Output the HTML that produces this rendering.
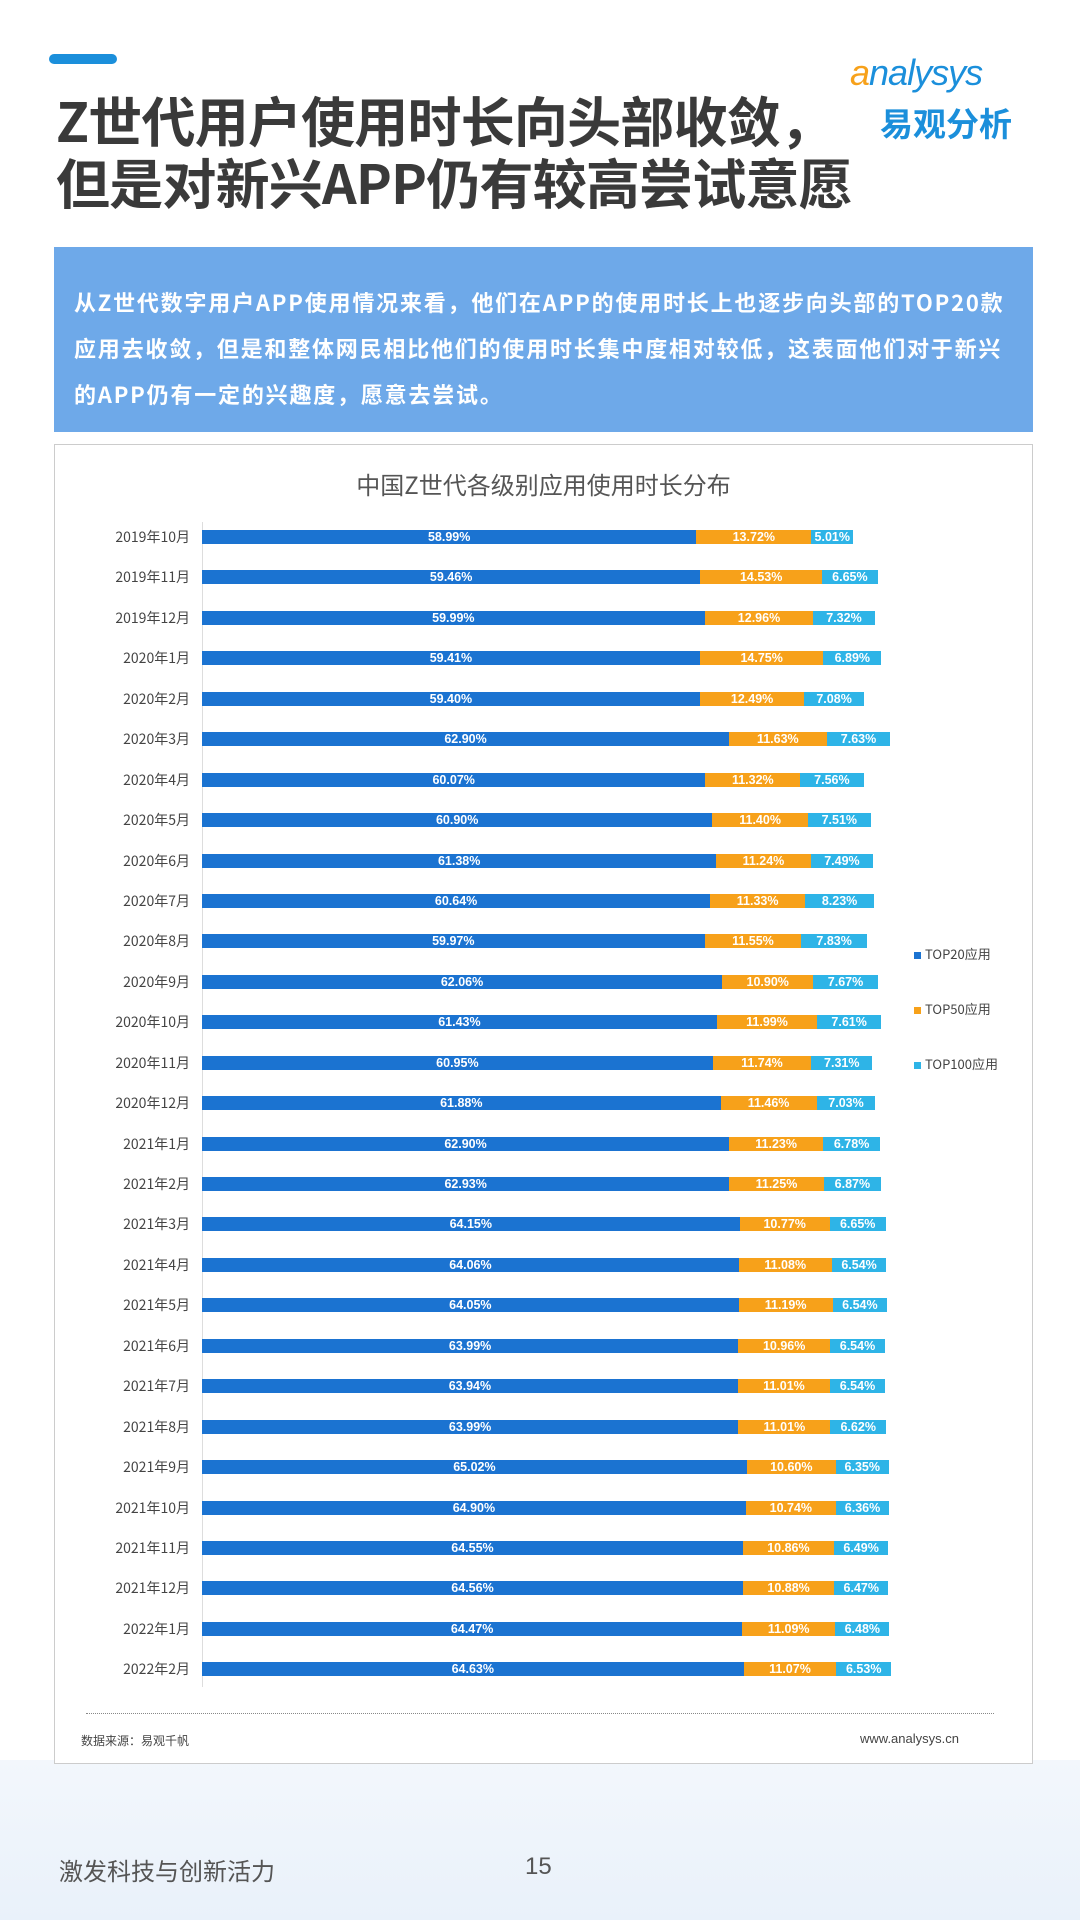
<!DOCTYPE html>
<html><head><meta charset="utf-8">
<style>
*{margin:0;padding:0;box-sizing:border-box}
body{width:1080px;height:1920px;position:relative;background:#fff;font-family:"Liberation Sans","Noto Sans CJK SC",sans-serif;overflow:hidden}
.abs{position:absolute}
.bottom{position:absolute;left:0;top:1760px;width:1080px;height:160px;background:linear-gradient(#f3f7fc,#e9f1fa)}
.title{left:56px;top:88px;font-size:54px;font-weight:bold;color:#3a3a3a;line-height:62px;font-family:"Noto Sans CJK SC",sans-serif;letter-spacing:-0.8px}
.box{left:54px;top:247px;width:979px;height:185px;background:#6ea9e9;color:#fff;font-weight:bold;font-size:22px;line-height:46px;padding:32px 10px 0 20px;font-family:"Noto Sans CJK SC",sans-serif;letter-spacing:1.8px;white-space:nowrap}
.frame{left:54px;top:444px;width:979px;height:1320px;border:1px solid #ccc;background:#fff}
.ctitle{left:54px;width:979px;top:466px;text-align:center;font-size:24px;color:#555;font-family:"Noto Sans CJK SC",sans-serif}
.axis{left:202px;top:522px;width:1px;height:1165px;background:#ddd}
.rows{left:0;top:530px;width:1000px}
.r{height:40.45px;display:flex;align-items:flex-start;white-space:nowrap}
.l{width:190px;text-align:right;font-size:14px;color:#444;line-height:14px;margin-right:12px;font-family:"Noto Sans CJK SC",sans-serif}
.r b{display:block;height:14px;line-height:14px;font-size:12.5px;color:#fff;text-align:center;font-weight:bold;overflow:visible}
.a{background:#1b73d1}.o{background:#f7a11a}.c{background:#2eb4e7}
.leg{left:914px;font-size:13px;color:#444;font-family:"Noto Sans CJK SC",sans-serif}
.leg i{display:inline-block;width:7px;height:7px;margin-right:4px;vertical-align:middle}
</style></head><body>
<div class="bottom"></div>
<div class="abs" style="left:49px;top:54px;width:68px;height:10px;border-radius:5px;background:#1b8fdb"></div>
<div class="abs title">Z世代用户使用时长向头部收敛，<br>但是对新兴APP仍有较高尝试意愿</div>
<div class="abs" style="left:850px;top:52px;font-size:36px;color:#1b8fdb;font-style:italic;letter-spacing:-1px"><span style="color:#f7a11a">a</span>nalysys</div>
<div class="abs" style="left:880px;top:98px;font-size:33px;color:#1b8fdb;font-weight:bold;font-family:'Noto Sans CJK SC',sans-serif">易观分析</div>
<div class="abs box">从Z世代数字用户APP使用情况来看，他们在APP的使用时长上也逐步向头部的TOP20款<br>应用去收敛，但是和整体网民相比他们的使用时长集中度相对较低，这表面他们对于新兴<br>的APP仍有一定的兴趣度，愿意去尝试。</div>
<div class="abs frame"></div>
<div class="abs ctitle">中国Z世代各级别应用使用时长分布</div>
<div class="abs axis"></div>
<div class="abs rows">
<div class="r"><span class="l">2019年10月</span><b class="a" style="width:calc(58.99*8.38px)">58.99%</b><b class="o" style="width:calc(13.72*8.38px)">13.72%</b><b class="c" style="width:calc(5.01*8.38px)">5.01%</b></div>
<div class="r"><span class="l">2019年11月</span><b class="a" style="width:calc(59.46*8.38px)">59.46%</b><b class="o" style="width:calc(14.53*8.38px)">14.53%</b><b class="c" style="width:calc(6.65*8.38px)">6.65%</b></div>
<div class="r"><span class="l">2019年12月</span><b class="a" style="width:calc(59.99*8.38px)">59.99%</b><b class="o" style="width:calc(12.96*8.38px)">12.96%</b><b class="c" style="width:calc(7.32*8.38px)">7.32%</b></div>
<div class="r"><span class="l">2020年1月</span><b class="a" style="width:calc(59.41*8.38px)">59.41%</b><b class="o" style="width:calc(14.75*8.38px)">14.75%</b><b class="c" style="width:calc(6.89*8.38px)">6.89%</b></div>
<div class="r"><span class="l">2020年2月</span><b class="a" style="width:calc(59.40*8.38px)">59.40%</b><b class="o" style="width:calc(12.49*8.38px)">12.49%</b><b class="c" style="width:calc(7.08*8.38px)">7.08%</b></div>
<div class="r"><span class="l">2020年3月</span><b class="a" style="width:calc(62.90*8.38px)">62.90%</b><b class="o" style="width:calc(11.63*8.38px)">11.63%</b><b class="c" style="width:calc(7.63*8.38px)">7.63%</b></div>
<div class="r"><span class="l">2020年4月</span><b class="a" style="width:calc(60.07*8.38px)">60.07%</b><b class="o" style="width:calc(11.32*8.38px)">11.32%</b><b class="c" style="width:calc(7.56*8.38px)">7.56%</b></div>
<div class="r"><span class="l">2020年5月</span><b class="a" style="width:calc(60.90*8.38px)">60.90%</b><b class="o" style="width:calc(11.40*8.38px)">11.40%</b><b class="c" style="width:calc(7.51*8.38px)">7.51%</b></div>
<div class="r"><span class="l">2020年6月</span><b class="a" style="width:calc(61.38*8.38px)">61.38%</b><b class="o" style="width:calc(11.24*8.38px)">11.24%</b><b class="c" style="width:calc(7.49*8.38px)">7.49%</b></div>
<div class="r"><span class="l">2020年7月</span><b class="a" style="width:calc(60.64*8.38px)">60.64%</b><b class="o" style="width:calc(11.33*8.38px)">11.33%</b><b class="c" style="width:calc(8.23*8.38px)">8.23%</b></div>
<div class="r"><span class="l">2020年8月</span><b class="a" style="width:calc(59.97*8.38px)">59.97%</b><b class="o" style="width:calc(11.55*8.38px)">11.55%</b><b class="c" style="width:calc(7.83*8.38px)">7.83%</b></div>
<div class="r"><span class="l">2020年9月</span><b class="a" style="width:calc(62.06*8.38px)">62.06%</b><b class="o" style="width:calc(10.90*8.38px)">10.90%</b><b class="c" style="width:calc(7.67*8.38px)">7.67%</b></div>
<div class="r"><span class="l">2020年10月</span><b class="a" style="width:calc(61.43*8.38px)">61.43%</b><b class="o" style="width:calc(11.99*8.38px)">11.99%</b><b class="c" style="width:calc(7.61*8.38px)">7.61%</b></div>
<div class="r"><span class="l">2020年11月</span><b class="a" style="width:calc(60.95*8.38px)">60.95%</b><b class="o" style="width:calc(11.74*8.38px)">11.74%</b><b class="c" style="width:calc(7.31*8.38px)">7.31%</b></div>
<div class="r"><span class="l">2020年12月</span><b class="a" style="width:calc(61.88*8.38px)">61.88%</b><b class="o" style="width:calc(11.46*8.38px)">11.46%</b><b class="c" style="width:calc(7.03*8.38px)">7.03%</b></div>
<div class="r"><span class="l">2021年1月</span><b class="a" style="width:calc(62.90*8.38px)">62.90%</b><b class="o" style="width:calc(11.23*8.38px)">11.23%</b><b class="c" style="width:calc(6.78*8.38px)">6.78%</b></div>
<div class="r"><span class="l">2021年2月</span><b class="a" style="width:calc(62.93*8.38px)">62.93%</b><b class="o" style="width:calc(11.25*8.38px)">11.25%</b><b class="c" style="width:calc(6.87*8.38px)">6.87%</b></div>
<div class="r"><span class="l">2021年3月</span><b class="a" style="width:calc(64.15*8.38px)">64.15%</b><b class="o" style="width:calc(10.77*8.38px)">10.77%</b><b class="c" style="width:calc(6.65*8.38px)">6.65%</b></div>
<div class="r"><span class="l">2021年4月</span><b class="a" style="width:calc(64.06*8.38px)">64.06%</b><b class="o" style="width:calc(11.08*8.38px)">11.08%</b><b class="c" style="width:calc(6.54*8.38px)">6.54%</b></div>
<div class="r"><span class="l">2021年5月</span><b class="a" style="width:calc(64.05*8.38px)">64.05%</b><b class="o" style="width:calc(11.19*8.38px)">11.19%</b><b class="c" style="width:calc(6.54*8.38px)">6.54%</b></div>
<div class="r"><span class="l">2021年6月</span><b class="a" style="width:calc(63.99*8.38px)">63.99%</b><b class="o" style="width:calc(10.96*8.38px)">10.96%</b><b class="c" style="width:calc(6.54*8.38px)">6.54%</b></div>
<div class="r"><span class="l">2021年7月</span><b class="a" style="width:calc(63.94*8.38px)">63.94%</b><b class="o" style="width:calc(11.01*8.38px)">11.01%</b><b class="c" style="width:calc(6.54*8.38px)">6.54%</b></div>
<div class="r"><span class="l">2021年8月</span><b class="a" style="width:calc(63.99*8.38px)">63.99%</b><b class="o" style="width:calc(11.01*8.38px)">11.01%</b><b class="c" style="width:calc(6.62*8.38px)">6.62%</b></div>
<div class="r"><span class="l">2021年9月</span><b class="a" style="width:calc(65.02*8.38px)">65.02%</b><b class="o" style="width:calc(10.60*8.38px)">10.60%</b><b class="c" style="width:calc(6.35*8.38px)">6.35%</b></div>
<div class="r"><span class="l">2021年10月</span><b class="a" style="width:calc(64.90*8.38px)">64.90%</b><b class="o" style="width:calc(10.74*8.38px)">10.74%</b><b class="c" style="width:calc(6.36*8.38px)">6.36%</b></div>
<div class="r"><span class="l">2021年11月</span><b class="a" style="width:calc(64.55*8.38px)">64.55%</b><b class="o" style="width:calc(10.86*8.38px)">10.86%</b><b class="c" style="width:calc(6.49*8.38px)">6.49%</b></div>
<div class="r"><span class="l">2021年12月</span><b class="a" style="width:calc(64.56*8.38px)">64.56%</b><b class="o" style="width:calc(10.88*8.38px)">10.88%</b><b class="c" style="width:calc(6.47*8.38px)">6.47%</b></div>
<div class="r"><span class="l">2022年1月</span><b class="a" style="width:calc(64.47*8.38px)">64.47%</b><b class="o" style="width:calc(11.09*8.38px)">11.09%</b><b class="c" style="width:calc(6.48*8.38px)">6.48%</b></div>
<div class="r"><span class="l">2022年2月</span><b class="a" style="width:calc(64.63*8.38px)">64.63%</b><b class="o" style="width:calc(11.07*8.38px)">11.07%</b><b class="c" style="width:calc(6.53*8.38px)">6.53%</b></div>
</div>
<div class="abs leg" style="top:944px"><i style="background:#1b73d1"></i>TOP20应用</div>
<div class="abs leg" style="top:999px"><i style="background:#f7a11a"></i>TOP50应用</div>
<div class="abs leg" style="top:1054px"><i style="background:#2eb4e7"></i>TOP100应用</div>
<div class="abs" style="left:86px;top:1713px;width:908px;border-top:1px dotted #888"></div>
<div class="abs" style="left:81px;top:1732px;font-size:12px;color:#444;font-family:'Noto Sans CJK SC',sans-serif">数据来源：易观千帆</div>
<div class="abs" style="left:860px;top:1731px;font-size:13px;color:#444">www.analysys.cn</div>
<div class="abs" style="left:59px;top:1852px;font-size:24px;color:#555;font-family:'Noto Sans CJK SC',sans-serif">激发科技与创新活力</div>
<div class="abs" style="left:525px;top:1853px;font-size:24px;color:#555">15</div>
</body></html>
